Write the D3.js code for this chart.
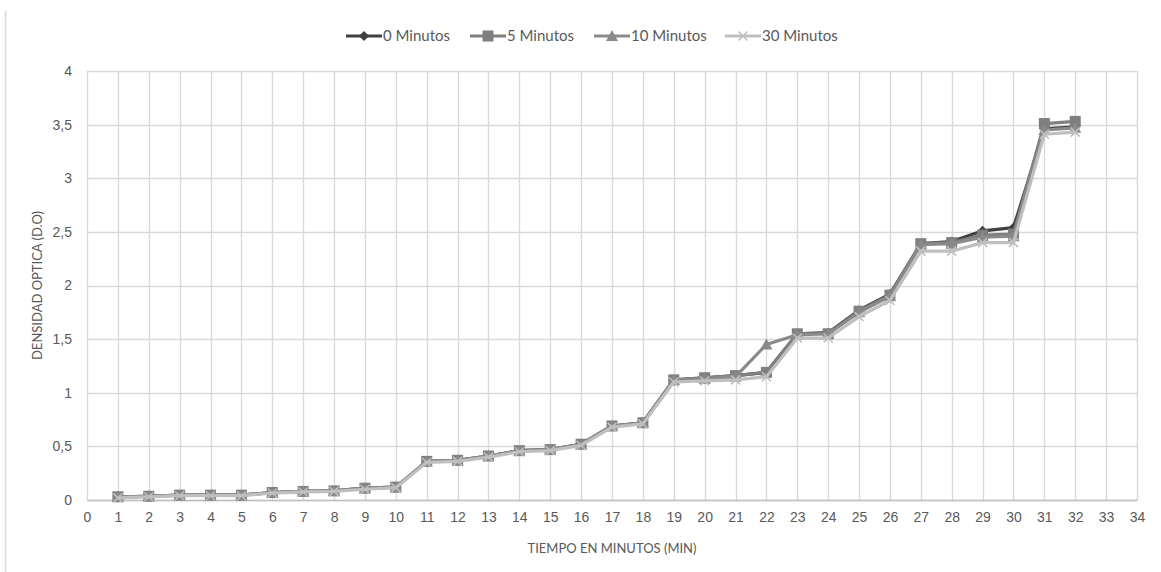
<!DOCTYPE html>
<html>
<head>
<meta charset="utf-8">
<script src="https://cdn.jsdelivr.net/npm/d3@7/dist/d3.min.js"></script>
<style>
  html, body { margin: 0; padding: 0; background: #fff; }
  svg { display: block; font-family: Lato, "Open Sans", "Liberation Sans", sans-serif; }
</style>
</head>
<body>
<svg id="chart" width="1161" height="572"></svg>
<script>
// Time points (minutes) along the x axis
const minutes = d3.range(1, 33);

// Optical density readings for each incubation series
const t0 = [0.03,0.035,0.045,0.045,0.045,0.07,0.08,0.085,0.11,0.12,0.36,0.37,0.41,0.46,0.47,0.52,0.69,0.72,1.12,1.14,1.16,1.19,1.55,1.56,1.77,1.92,2.39,2.41,2.51,2.54,3.46,3.48];
const t5 = [0.03,0.035,0.045,0.045,0.045,0.07,0.08,0.085,0.11,0.12,0.36,0.37,0.41,0.46,0.47,0.52,0.69,0.72,1.12,1.14,1.16,1.19,1.55,1.55,1.76,1.91,2.39,2.40,2.47,2.48,3.51,3.53];
const t10 = [0.03,0.035,0.045,0.045,0.045,0.07,0.08,0.085,0.11,0.12,0.36,0.37,0.41,0.46,0.47,0.52,0.69,0.72,1.12,1.13,1.15,1.45,1.54,1.55,1.75,1.90,2.38,2.39,2.45,2.46,3.45,3.47];
const t30 = [0.02,0.03,0.04,0.04,0.04,0.065,0.075,0.08,0.10,0.115,0.35,0.36,0.40,0.45,0.46,0.51,0.68,0.71,1.10,1.11,1.12,1.15,1.51,1.51,1.71,1.86,2.32,2.32,2.40,2.40,3.41,3.43];

const seriesNames = ["0 Minutos", "5 Minutos", "10 Minutos", "30 Minutos"];
const seriesValues = [t0, t5, t10, t30];
const seriesColors = ["#404040", "#7f7f7f", "#8a8a8a", "#bfbfbf"];
const seriesSymbols = ["diamond", "square", "triangle", "cross"];

const xTicks = d3.range(0, 35);
const yTicks = [0, 0.5, 1, 1.5, 2, 2.5, 3, 3.5, 4];

const svg = d3.select("#chart");
const margin = { left: 87, right: 24, top: 71, bottom: 72 };
const W = 1161, H = 572;

const x = d3.scaleLinear().domain([0, 34]).range([margin.left, W - margin.right]);
const y = d3.scaleLinear().domain([0, 4]).range([H - margin.bottom, margin.top]);

const fmt = v => String(v).replace(".", ",");

// Chart area border on the left edge
svg.append("line")
  .attr("x1", 5.5).attr("x2", 5.5).attr("y1", 11).attr("y2", 572)
  .attr("stroke", "#d9d9d9").attr("stroke-width", 1.5);

// Gridlines
const grid = svg.append("g");
grid.selectAll("line.v").data(xTicks).join("line")
  .attr("x1", d => Math.round(x(d)) + 0.5).attr("x2", d => Math.round(x(d)) + 0.5)
  .attr("y1", y(4)).attr("y2", y(0))
  .attr("stroke", "#d9d9d9").attr("stroke-width", 1.4);
grid.selectAll("line.h").data(yTicks).join("line")
  .attr("x1", x(0)).attr("x2", x(34))
  .attr("y1", d => Math.round(y(d)) + 0.5).attr("y2", d => Math.round(y(d)) + 0.5)
  .attr("stroke", "#d9d9d9").attr("stroke-width", 1.4);

// Axes
const xAxis = svg.append("g")
  .attr("transform", `translate(0,${y(0)})`)
  .call(d3.axisBottom(x).tickValues(xTicks).tickSize(0).tickPadding(12).tickFormat(d => d));
xAxis.select(".domain").attr("stroke", "#bfbfbf").attr("stroke-width", 1.4);
xAxis.selectAll("text").attr("fill", "#595959").style("font-size", "14px");

const yAxis = svg.append("g")
  .attr("transform", `translate(${x(0)},0)`)
  .call(d3.axisLeft(y).tickValues(yTicks).tickSize(0).tickPadding(15).tickFormat(fmt));
yAxis.select(".domain").remove();
yAxis.selectAll("text").attr("fill", "#595959").style("font-size", "14px");

// Axis titles
svg.append("text")
  .attr("x", (x(0) + x(34)) / 2).attr("y", 553)
  .attr("text-anchor", "middle").attr("fill", "#595959").style("font-size", "13px")
  .text("TIEMPO EN MINUTOS (MIN)");
svg.append("text")
  .attr("transform", `translate(42,${(y(0) + y(4)) / 2}) rotate(-90)`)
  .attr("text-anchor", "middle").attr("fill", "#595959").style("font-size", "13px")
  .text("DENSIDAD OPTICA (D.O)");

// Marker shapes
function marker(sel, symbol, color) {
  if (symbol === "diamond") {
    sel.append("path").attr("d", "M0,-5L5,0L0,5L-5,0Z").attr("fill", color);
  } else if (symbol === "square") {
    sel.append("rect").attr("x", -5.5).attr("y", -5.5).attr("width", 11).attr("height", 11).attr("fill", color);
  } else if (symbol === "triangle") {
    sel.append("path").attr("d", "M0,-6L6,5L-6,5Z").attr("fill", color);
  } else {
    sel.append("path").attr("d", "M-4.5,-4.5L4.5,4.5M-4.5,4.5L4.5,-4.5")
      .attr("stroke", color).attr("stroke-width", 1.6).attr("fill", "none");
  }
}

const line = d3.line().x((d, i) => x(minutes[i])).y(d => y(d));

seriesValues.forEach((vals, s) => {
  const g = svg.append("g");
  g.append("path").datum(vals)
    .attr("d", line).attr("fill", "none")
    .attr("stroke", seriesColors[s]).attr("stroke-width", 3.2)
    .attr("stroke-linejoin", "round");
  g.selectAll("g.pt").data(vals).join("g")
    .attr("transform", (d, i) => `translate(${x(minutes[i])},${y(d)})`)
    .each(function () { marker(d3.select(this), seriesSymbols[s], seriesColors[s]); });
});

// Legend
const legendX = [346, 470, 594, 725];
const legend = svg.append("g").attr("transform", "translate(0,36)");
seriesNames.forEach((name, s) => {
  const g = legend.append("g").attr("transform", `translate(${legendX[s]},0)`);
  g.append("line").attr("x1", 0).attr("x2", 36).attr("y1", 0).attr("y2", 0)
    .attr("stroke", seriesColors[s]).attr("stroke-width", 3.2);
  const m = g.append("g").attr("transform", "translate(18,0)");
  marker(m, seriesSymbols[s], seriesColors[s]);
  g.append("text").attr("x", 37).attr("y", 5)
    .attr("fill", "#595959").style("font-size", "15px").text(name);
});
</script>
</body>
</html>
